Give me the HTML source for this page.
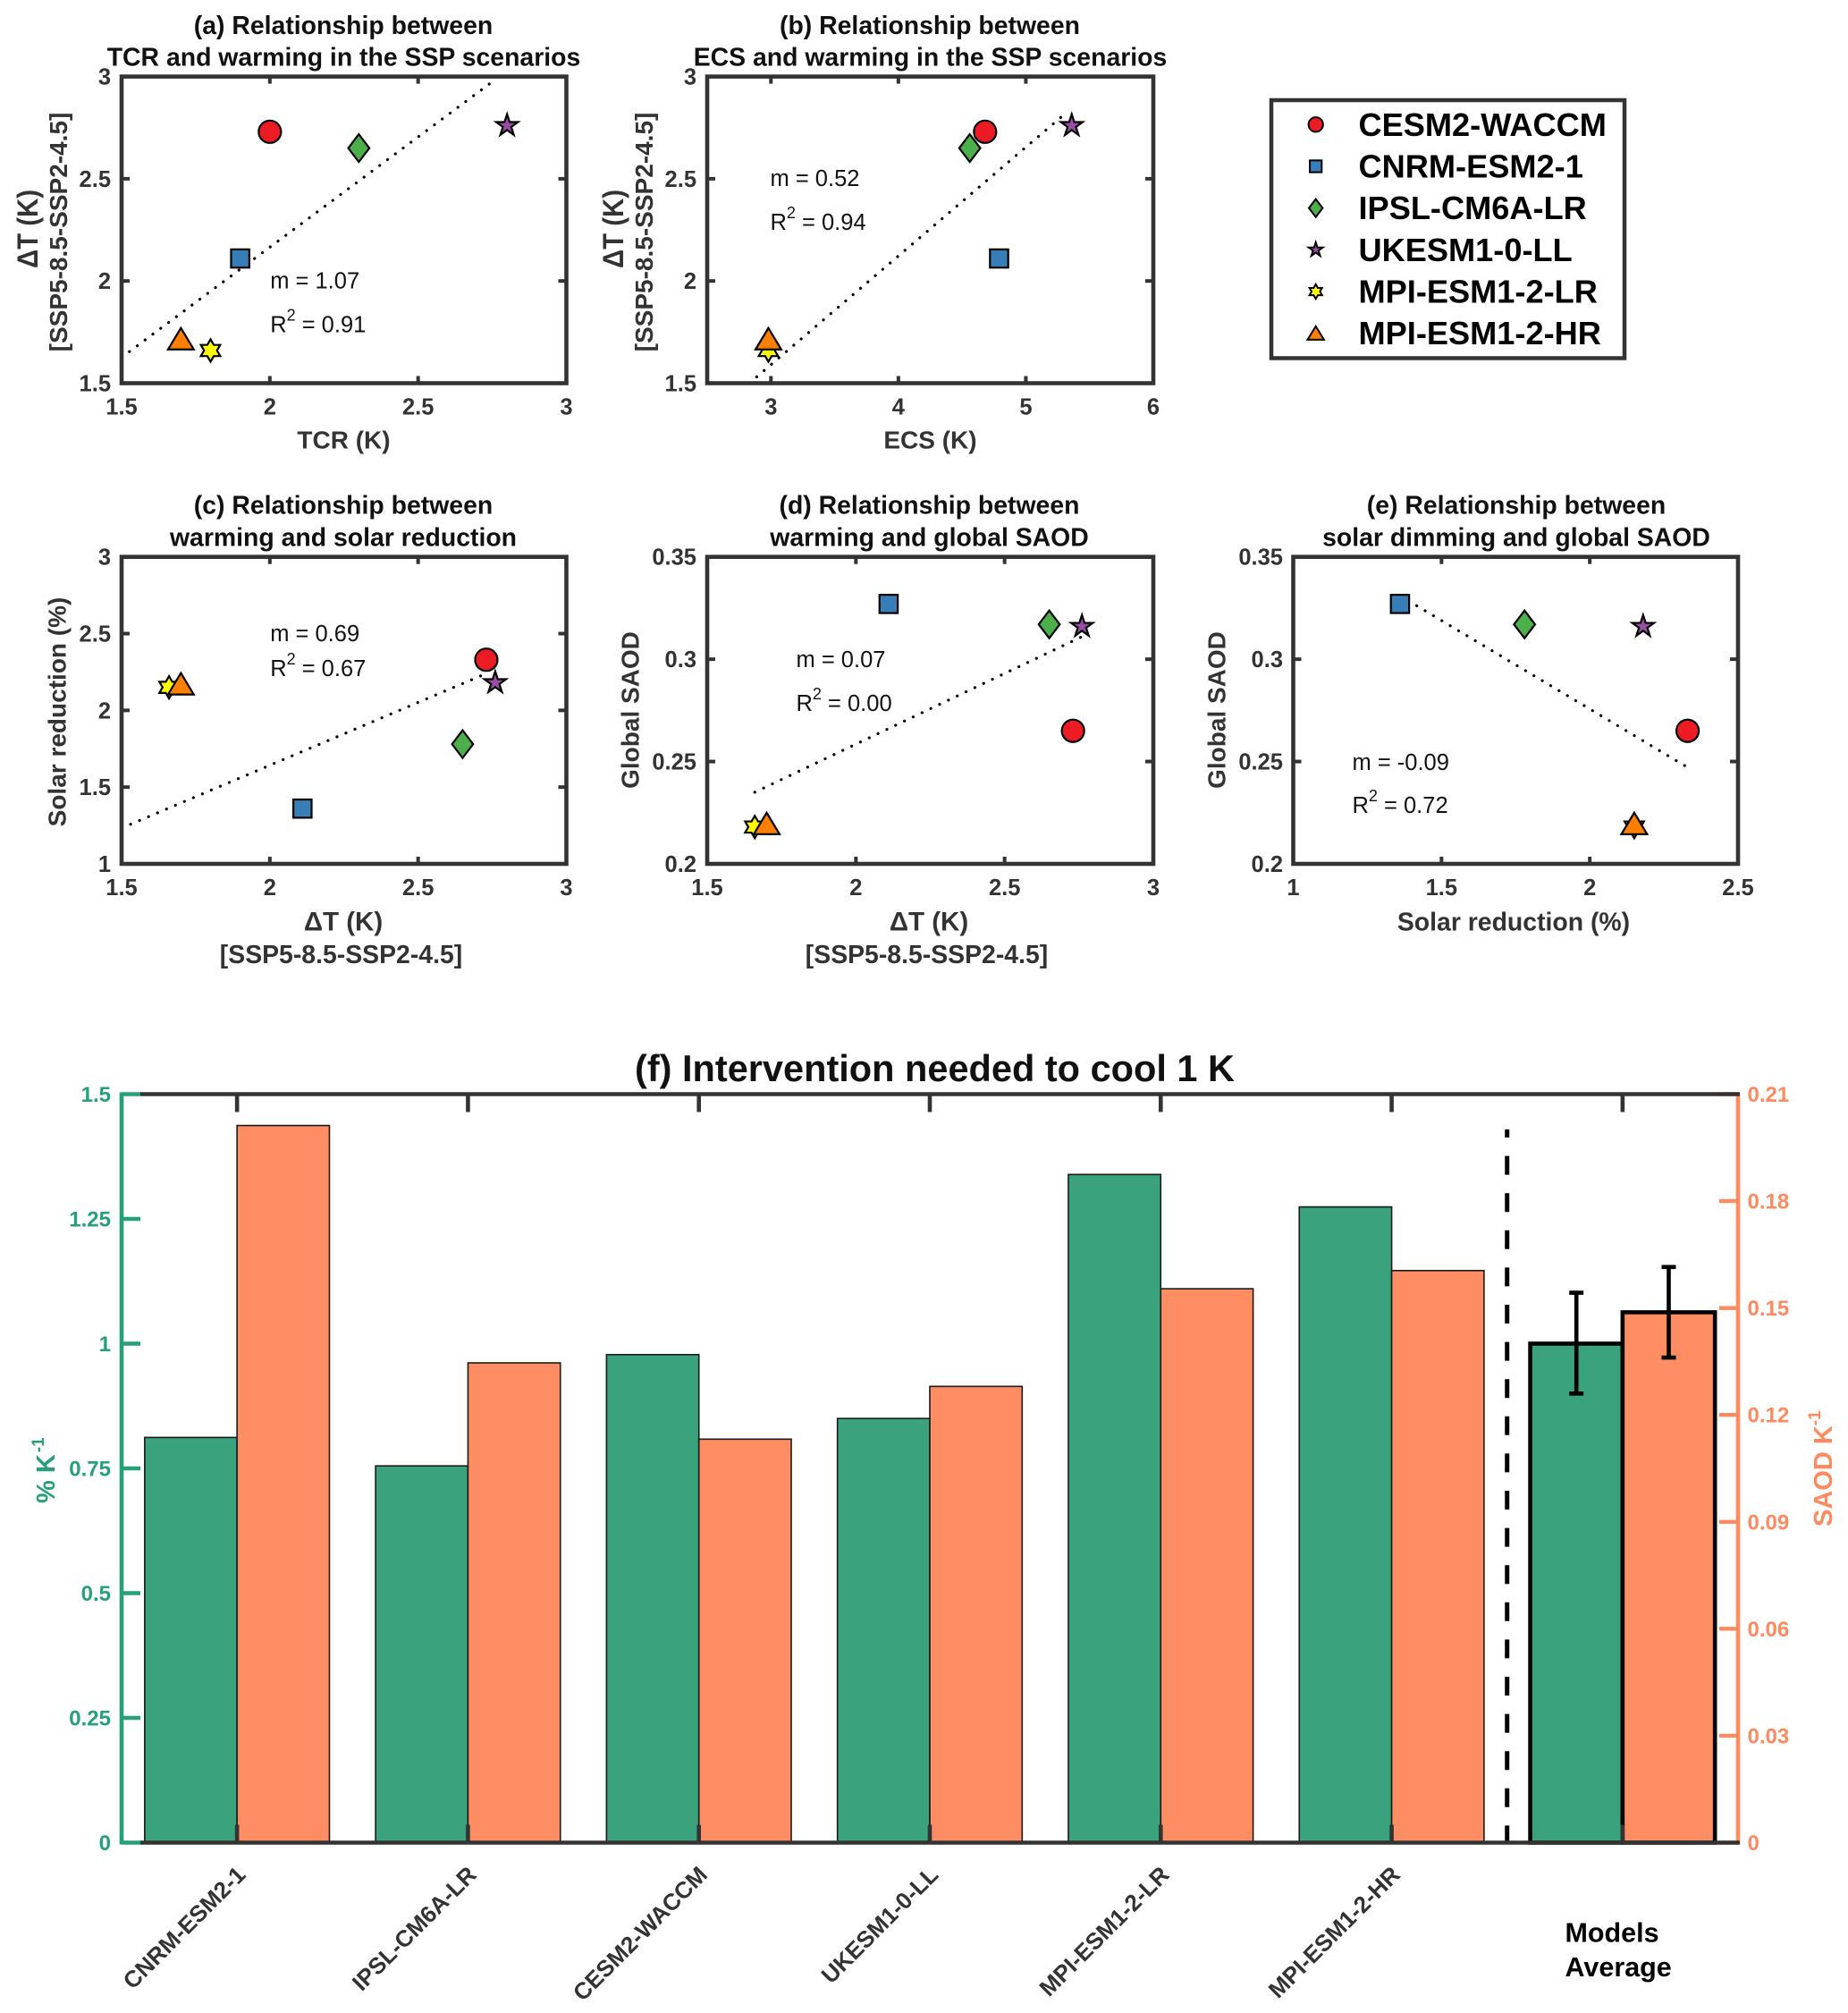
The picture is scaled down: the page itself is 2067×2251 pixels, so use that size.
<!DOCTYPE html>
<html lang="en">
<head>
<meta charset="utf-8">
<title>Intervention needed to cool 1 K</title>
<style>
html,body{margin:0;padding:0;background:#fff;}
svg{display:block;font-family:"Liberation Sans",Arial,sans-serif;}
.t{font-weight:700;font-size:28.4px;fill:#111;text-anchor:middle;}
.l{font-weight:700;font-size:28px;fill:#333;text-anchor:middle;}
.a{font-size:25.5px;fill:#111;}
.s{font-size:18px;}
</style>
</head>
<body>
<svg id="fig" xmlns="http://www.w3.org/2000/svg" width="2067" height="2251" viewBox="0 0 2067 2251">
<rect x="0" y="0" width="2067" height="2251" fill="#fff"/>

<g>
<text class="t" x="384" y="38">(a) Relationship between</text>
<text class="t" x="384.5" y="73.5">TCR and warming in the SSP scenarios</text>
<text class="t" x="1040" y="38">(b) Relationship between</text>
<text class="t" x="1040.5" y="73.5">ECS and warming in the SSP scenarios</text>
<text class="t" x="384" y="574.5">(c) Relationship between</text>
<text class="t" x="384" y="610.5">warming and solar reduction</text>
<text class="t" x="1039.5" y="574.5">(d) Relationship between</text>
<text class="t" x="1039.5" y="610.5">warming and global SAOD</text>
<text class="t" x="1696" y="574.5">(e) Relationship between</text>
<text class="t" x="1696" y="610.5">solar dimming and global SAOD</text>
</g>

<g>
<text class="l" transform="translate(42,256) rotate(-90)" style="font-size:32px" textLength="88" lengthAdjust="spacingAndGlyphs">ΔT (K)</text>
<text class="l" transform="translate(75,259.5) rotate(-90)">[SSP5-8.5-SSP2-4.5]</text>
<text class="l" x="384.5" y="501.5">TCR (K)</text>
<text class="l" transform="translate(697,256) rotate(-90)" style="font-size:32px" textLength="88" lengthAdjust="spacingAndGlyphs">ΔT (K)</text>
<text class="l" transform="translate(730,259.5) rotate(-90)">[SSP5-8.5-SSP2-4.5]</text>
<text class="l" x="1040.5" y="501.5">ECS (K)</text>
<text class="l" transform="translate(73.5,796) rotate(-90)">Solar reduction (%)</text>
<text class="l" x="384" y="1040.5" style="font-size:29.5px">ΔT (K)</text>
<text class="l" x="381.5" y="1077" style="font-size:28.4px">[SSP5-8.5-SSP2-4.5]</text>
<text class="l" transform="translate(714.5,794) rotate(-90)">Global SAOD</text>
<text class="l" x="1039" y="1040.5" style="font-size:29.5px">ΔT (K)</text>
<text class="l" x="1036.5" y="1077" style="font-size:28.4px">[SSP5-8.5-SSP2-4.5]</text>
<text class="l" transform="translate(1370.5,794) rotate(-90)">Global SAOD</text>
<text class="l" x="1693" y="1040.5" style="font-size:28.4px">Solar reduction (%)</text>
</g>

<g id="panels"></g>

<g>
<text class="a" x="302.2" y="322.5">m = 1.07</text>
<text class="a" x="302.2" y="371.5">R<tspan class="s" dy="-13">2</tspan><tspan dy="13"> = 0.91</tspan></text>
<text class="a" x="861.5" y="208">m = 0.52</text>
<text class="a" x="861.5" y="257">R<tspan class="s" dy="-13">2</tspan><tspan dy="13"> = 0.94</tspan></text>
<text class="a" x="302.2" y="717">m = 0.69</text>
<text class="a" x="302.2" y="756">R<tspan class="s" dy="-13">2</tspan><tspan dy="13"> = 0.67</tspan></text>
<text class="a" x="890.5" y="746">m = 0.07</text>
<text class="a" x="890.5" y="795">R<tspan class="s" dy="-13">2</tspan><tspan dy="13"> = 0.00</tspan></text>
<text class="a" x="1512.5" y="861">m = -0.09</text>
<text class="a" x="1512.5" y="909">R<tspan class="s" dy="-13">2</tspan><tspan dy="13"> = 0.72</tspan></text>
</g>

<g id="legend">
<rect x="1422" y="112" width="395" height="288.5" fill="#fff" stroke="#333" stroke-width="4.5"/>
</g>

<text x="1045.5" y="1209" text-anchor="middle" font-weight="700" font-size="41.5" fill="#111" textLength="671" lengthAdjust="spacingAndGlyphs">(f) Intervention needed to cool 1 K</text>
<g id="barchart"></g>
<text transform="translate(61,1681) rotate(-90)" font-weight="700" font-size="29" fill="#27a078">% K<tspan font-size="19" dy="-12" dx="2">-1</tspan></text>
<text transform="translate(2049,1707) rotate(-90)" font-weight="700" font-size="29" fill="#fe8a5f">SAOD K<tspan font-size="19" dy="-13">-1</tspan></text>
<text x="1750.5" y="2171.5" font-weight="700" font-size="30.5" fill="#000">Models</text>
<text x="1750.5" y="2210" font-weight="700" font-size="30.5" fill="#000">Average</text>
</svg>

<script>
// ---- scatter data, one entry per model ----
const models = ['CESM2-WACCM','CNRM-ESM2-1','IPSL-CM6A-LR','UKESM1-0-LL','MPI-ESM1-2-LR','MPI-ESM1-2-HR'];
const tcr = [2.0,1.9,2.3,2.8,1.8,1.7];
const ecs = [4.68,4.79,4.56,5.36,2.98,2.98];
const deltaT = [2.73,2.11,2.65,2.76,1.66,1.70];
const solarReduction = [2.33,1.36,1.78,2.18,2.15,2.15];
const globalSaod = [0.265,0.327,0.317,0.316,0.218,0.218];

// ---- trend line end points, read in data units ----
const trendAx = [1.5,2.76];
const trendAy = [1.626,2.985];
const trendBx = [2.83,5.33];
const trendBy = [1.5,2.83];
const trendCx = [1.5,2.73];
const trendCy = [1.233,2.24];
const trendDx = [1.66,2.76];
const trendDy = [0.235,0.311];
const trendEx = [1.36,2.32];
const trendEy = [0.331,0.248];

// ---- tick labels ----
const xTicksA = [1.5,2,2.5,3];
const yTicksA = [1.5,2,2.5,3];
const xTicksB = [3,4,5,6];
const yTicksB = [1.5,2,2.5,3];
const xTicksC = [1.5,2,2.5,3];
const yTicksC = [1,1.5,2,2.5,3];
const xTicksD = [1.5,2,2.5,3];
const yTicksD = [0.2,0.25,0.3,0.35];
const xTicksE = [1,1.5,2,2.5];
const yTicksE = [0.2,0.25,0.3,0.35];

// ---- bar chart data ----
const barCategories = ['CNRM-ESM2-1','IPSL-CM6A-LR','CESM2-WACCM','UKESM1-0-LL','MPI-ESM1-2-LR','MPI-ESM1-2-HR'];
const percentPerK = [0.812,0.755,0.978,0.85,1.339,1.274];
const saodPerK = [0.2012,0.1346,0.1132,0.128,0.1554,0.1605];
const averagePercent = [1.0];
const averageSaod = [0.1488];
const averagePercentError = [0.900,1.102];
const averageSaodError = [0.1361,0.1615];
const leftTicks = [0,0.25,0.5,0.75,1,1.25,1.5];
const rightTicks = [0,0.03,0.06,0.09,0.12,0.15,0.18,0.21];

// ---- drawing ----
const NS = 'http://www.w3.org/2000/svg';
const DARK = '#333';
const markerKinds = ['circle','square','diamond','star','hexagram','triangle'];
const markerFills = ['#ed1c24','#377eb8','#4daf4a','#984ea3','#ffff00','#ff7f00'];
const drawOrder = [2,1,3,0,4,5];

function mk(tag, attrs, parent){
  const el = document.createElementNS(NS, tag);
  for (const k in attrs) el.setAttribute(k, attrs[k]);
  parent.appendChild(el);
  return el;
}
function ring(n, rOuter, rInner, s){
  const pts = [];
  for (let i = 0; i < n * 2; i++){
    const r = (i % 2 ? rInner : rOuter) * s;
    const a = -Math.PI / 2 + i * Math.PI / n;
    pts.push((r * Math.cos(a)).toFixed(2) + ',' + (r * Math.sin(a)).toFixed(2));
  }
  return pts.join(' ');
}
function marker(kind, fill, cx, cy, s, parent){
  const style = {fill:fill, stroke:'#000', 'stroke-width':s < 1 ? 2 : 2.2, 'stroke-miterlimit':8, transform:'translate(' + cx + ',' + cy + ')'};
  let el;
  if (kind === 'circle') el = mk('circle', Object.assign({cx:0, cy:0, r:12.5 * s}, style), parent);
  else if (kind === 'square') el = mk('rect', Object.assign({x:-10.2 * s, y:-10.2 * s, width:20.4 * s, height:20.4 * s}, style), parent);
  else if (kind === 'diamond') el = mk('polygon', Object.assign({points:[0,-15.5*s, 11.8*s,0, 0,15.5*s, -11.8*s,0].join(' ')}, style), parent);
  else if (kind === 'star') el = mk('polygon', Object.assign({points:ring(5, 12.8, 4.9, s)}, style), parent);
  else if (kind === 'hexagram') el = mk('polygon', Object.assign({points:ring(6, 12.5, 7.2, s)}, style), parent);
  else el = mk('polygon', Object.assign({points:s < 1 ? [0,-12*s, 14.2*s,11*s, -14.2*s,11*s].join(' ') : [0,-16, 14.4,8, -14.4,8].join(' ')}, style), parent);
  return el;
}
function tickText(str, x, y, anchor, size, fill, parent){
  return mk('text', {x:x, y:y, 'text-anchor':anchor, 'font-weight':700, 'font-size':size, fill:fill}, parent);
}

const panels = [
 {id:'a',x0:136,x1:633.5,yb:428.5,yt:85.6,xlim:[1.5,3],ylim:[1.5,3],xs:tcr,ys:deltaT,xt:xTicksA,yt2:yTicksA,tx:trendAx,ty:trendAy,lab:124},
 {id:'b',x0:791,x1:1290,yb:428.5,yt:85.6,xlim:[2.5,6],ylim:[1.5,3],xs:ecs,ys:deltaT,xt:xTicksB,yt2:yTicksB,tx:trendBx,ty:trendBy,lab:779},
 {id:'c',x0:136,x1:633.5,yb:966,yt:622.7,xlim:[1.5,3],ylim:[1,3],xs:deltaT,ys:solarReduction,xt:xTicksC,yt2:yTicksC,tx:trendCx,ty:trendCy,lab:124},
 {id:'d',x0:791,x1:1290,yb:966,yt:622.7,xlim:[1.5,3],ylim:[0.2,0.35],xs:deltaT,ys:globalSaod,xt:xTicksD,yt2:yTicksD,tx:trendDx,ty:trendDy,lab:779},
 {id:'e',x0:1446.5,x1:1944,yb:966,yt:622.7,xlim:[1,2.5],ylim:[0.2,0.35],xs:solarReduction,ys:globalSaod,xt:xTicksE,yt2:yTicksE,tx:trendEx,ty:trendEy,lab:1435}
];

const panelsRoot = document.getElementById('panels');
panels.forEach(function(p){
  const X = function(v){ return p.x0 + (v - p.xlim[0]) / (p.xlim[1] - p.xlim[0]) * (p.x1 - p.x0); };
  const Y = function(v){ return p.yb - (v - p.ylim[0]) / (p.ylim[1] - p.ylim[0]) * (p.yb - p.yt); };
  const g = mk('g', {}, panelsRoot);
  
  

  const trend = mk('line', {x1:X(p.tx[0]), y1:Y(p.ty[0]), x2:X(p.tx[1]), y2:Y(p.ty[1]), stroke:'#000', 'stroke-width':3.2, 'stroke-linecap':'round', 'stroke-dasharray':'0.1 10.8'}, g);
  
  

  drawOrder.forEach(function(i){
    const m = marker(markerKinds[i], markerFills[i], X(p.xs[i]), Y(p.ys[i]), 1, g);
    
    
  });

  const frame = mk('rect', {x:p.x0, y:p.yt, width:p.x1 - p.x0, height:p.yb - p.yt, fill:'none', stroke:DARK, 'stroke-width':4.6}, g);
  
  

  p.xt.forEach(function(v){
    const x = X(v);
    const t1 = mk('line', {x1:x, x2:x, y1:p.yb, y2:p.yb - 8, stroke:DARK, 'stroke-width':4}, g);
    
    
    const t2 = mk('line', {x1:x, x2:x, y1:p.yt, y2:p.yt + 8, stroke:DARK, 'stroke-width':4}, g);
    
    
    const lab = tickText(v, x, p.yb + 35, 'middle', 25.5, DARK, g);
    lab.textContent = String(v);
    
    
  });
  p.yt2.forEach(function(v){
    const y = Y(v);
    const t1 = mk('line', {x1:p.x0, x2:p.x0 + 9, y1:y, y2:y, stroke:DARK, 'stroke-width':4}, g);
    
    
    const t2 = mk('line', {x1:p.x1, x2:p.x1 - 9, y1:y, y2:y, stroke:DARK, 'stroke-width':4}, g);
    
    
    const lab = tickText(v, p.lab, y + 9, 'end', 25.5, DARK, g);
    lab.textContent = String(v);
    
    
  });
});

// ---- legend ----
const legendRoot = document.getElementById('legend');
models.forEach(function(name, i){
  const cy = 139.3 + i * 46.68;
  const m = marker(markerKinds[i], markerFills[i], 1471.7, cy, 0.65, legendRoot);
  
  
  const t = mk('text', {x:1519.5, y:cy + 12.5, 'font-weight':700, 'font-size':36.2, fill:'#000'}, legendRoot);
  t.textContent = name;
  
  
});

// ---- bar chart ----
const chartRoot = document.getElementById('barchart');
const fX0 = 136, fX1 = 1944, fYb = 2060.5, fYt = 1223.5;
const GREEN = '#3aa27c', ORANGE = '#fe8d64', AXG = '#27a078', AXO = '#fe8a5f';
const xF = function(v){ return fX0 + (v - 0.5) / 7 * (fX1 - fX0); };
const yL = function(v){ return fYb - v / 1.5 * (fYb - fYt); };
const yR = function(v){ return fYb - v / 0.21 * (fYb - fYt); };

function bar(x0, x1, top, fill, sw){
  return mk('rect', {x:x0, y:top, width:x1 - x0, height:fYb - top, fill:fill, stroke:sw > 2 ? '#000' : '#1a1a1a', 'stroke-width':sw}, chartRoot);
}
barCategories.forEach(function(name, i){
  const c = i + 1;
  const b1 = bar(xF(c - 0.4), xF(c), yL(percentPerK[i]), GREEN, 1.6);
  
  
  const b2 = bar(xF(c), xF(c + 0.4), yR(saodPerK[i]), ORANGE, 1.6);
  
  
  const lab = mk('text', {'text-anchor':'end', 'font-weight':700, 'font-size':26, fill:DARK, transform:'translate(' + (xF(c) + 11) + ',2098) rotate(-45)'}, chartRoot);
  lab.textContent = name;
  
  
});

const avgC = 7;
const avg1 = bar(xF(avgC - 0.4), xF(avgC), yL(averagePercent[0]), GREEN, 4.6);


const avg2 = bar(xF(avgC), xF(avgC + 0.4), yR(averageSaod[0]), ORANGE, 4.6);



function errorBar(cx, yLo, yHi, name){
  const g = mk('g', {stroke:'#000', 'stroke-width':4.6}, chartRoot);
  
  
  mk('line', {x1:cx, x2:cx, y1:yLo, y2:yHi}, g);
  mk('line', {x1:cx - 8, x2:cx + 8, y1:yLo, y2:yLo}, g);
  mk('line', {x1:cx - 8, x2:cx + 8, y1:yHi, y2:yHi}, g);
}
errorBar(xF(avgC - 0.2), yL(averagePercentError[0]), yL(averagePercentError[1]), 'error-bar-percent-average');
errorBar(xF(avgC + 0.2), yR(averageSaodError[0]), yR(averageSaodError[1]), 'error-bar-saod-average');

const sep = mk('line', {x1:xF(6.5), x2:xF(6.5), y1:1263, y2:fYb, stroke:'#000', 'stroke-width':5, 'stroke-dasharray':'21 20.6', 'stroke-dashoffset':12}, chartRoot);



// left axis
const leftLine = mk('line', {x1:fX0, x2:fX0, y1:fYt - 2, y2:fYb + 2, stroke:AXG, 'stroke-width':4.6}, chartRoot);


leftTicks.forEach(function(v){
  const tick = mk('line', {x1:fX0, x2:fX0 + 21, y1:yL(v), y2:yL(v), stroke:AXG, 'stroke-width':4.4}, chartRoot);
  
  
  const lab = tickText(v, 124, yL(v) + 8.5, 'end', 24, AXG, chartRoot);
  lab.textContent = String(v);
  
  
});

// right axis
const rightLine = mk('line', {x1:fX1, x2:fX1, y1:fYt - 2, y2:fYb + 2, stroke:AXO, 'stroke-width':4.6}, chartRoot);


rightTicks.forEach(function(v){
  const tick = mk('line', {x1:fX1, x2:fX1 - 21, y1:yR(v), y2:yR(v), stroke:AXO, 'stroke-width':4.4}, chartRoot);
  
  
  const lab = tickText(v, 1954.5, yR(v) + 8.5, 'start', 24, AXO, chartRoot);
  lab.textContent = String(v);
  
  
});

// dark top and bottom spines with category ticks
const topLine = mk('line', {x1:fX0 + 21, x2:fX1 + 2, y1:fYt, y2:fYt, stroke:DARK, 'stroke-width':4.4}, chartRoot);


const bottomLine = mk('line', {x1:fX0 + 21, x2:fX1 + 2, y1:fYb, y2:fYb, stroke:DARK, 'stroke-width':4.6}, chartRoot);


barCategories.concat(['Models Average']).forEach(function(name, i){
  const x = xF(i + 1);
  const t1 = mk('line', {x1:x, x2:x, y1:fYt, y2:fYt + 20, stroke:DARK, 'stroke-width':4.6}, chartRoot);
  
  
  const t2 = mk('line', {x1:x, x2:x, y1:fYb, y2:fYb - 20, stroke:DARK, 'stroke-width':4.6}, chartRoot);
  
  
});
</script>
</body>
</html>
